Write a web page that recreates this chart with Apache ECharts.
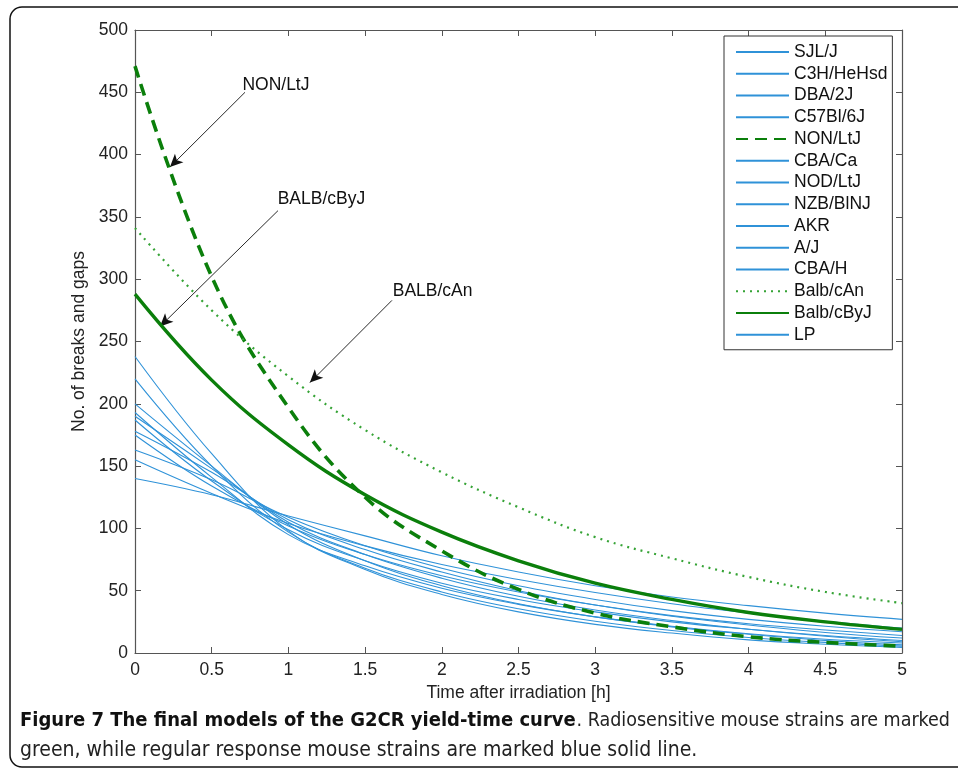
<!DOCTYPE html>
<html><head><meta charset="utf-8">
<script src="https://cdn.jsdelivr.net/npm/echarts@6/dist/echarts.min.js"></script>
<style>html,body{margin:0;padding:0;background:#fff}#c{width:958px;height:771px}</style>
</head><body><div id="c"></div>
<script>
// time points (h)
var times = [0, 0.5, 1, 1.5, 2, 2.5, 3, 3.5, 4, 4.5, 5];
var xTicks = [0, 0.5, 1, 1.5, 2, 2.5, 3, 3.5, 4, 4.5, 5];
var yTicks = [0, 50, 100, 150, 200, 250, 300, 350, 400, 450, 500];

// strains (legend order)
var strains = ['SJL/J','C3H/HeHsd','DBA/2J','C57Bl/6J','NON/LtJ','CBA/Ca','NOD/LtJ','NZB/BlNJ','AKR','A/J','CBA/H','Balb/cAn','Balb/cByJ','LP'];

// values
var sjl     = [238,160,98,67,47,33,23,16,10.5,7,4.5];
var c3h     = [220,150,97,68,49,35.5,25.5,18,12.5,8.5,5.5];
var dba     = [200,150,103,74,54,39.5,29,21,15,10,6.5];
var c57     = [193,141,95,70,52,39,29,21.5,15.5,11,8];
var non     = [471,302,197,125,82,51,32,21,13,8.5,5.5];
var cbaCa   = [190,148,105,79,60,45.5,34.5,26,19,13.5,9];
var nod     = [187,138,99,74,56,43,33,25,19,14,10];
var nzb     = [178,145,107,83,65,50,38.5,29.5,22.5,16.5,12];
var akr     = [175,134,102,79,62,49,38.5,30,23.5,18.5,14];
var aj      = [163,139,109,86,68,54,43,34,27,21.5,17];
var cbaH    = [155,128,104,86,71,59,48.5,39.5,32,25.5,20];
var balbAn  = [341,275,222,179,145,117,93,76,61,49,40];
var balbByJ = [288,219,167,127,97,74,56,43,32.5,25,19];
var lp      = [140,127,110,94,78,65,54,45,38,32,27];

// annotations: label, label anchor [t,v], arrow start [t,v], arrow tip [t,v]
var notes = [
  ['NON/LtJ',   [0.70,456], [0.717,450], [0.228,390]],
  ['BALB/cByJ', [0.93,364], [0.932,355], [0.163,262]],
  ['BALB/cAn',  [1.68,290], [1.675,283], [1.14,217]]
];

var valuesByName = {
  'SJL/J':sjl,'C3H/HeHsd':c3h,'DBA/2J':dba,'C57Bl/6J':c57,'NON/LtJ':non,'CBA/Ca':cbaCa,
  'NOD/LtJ':nod,'NZB/BlNJ':nzb,'AKR':akr,'A/J':aj,'CBA/H':cbaH,'Balb/cAn':balbAn,
  'Balb/cByJ':balbByJ,'LP':lp
};

var FONT = "'Liberation Sans', Arial, Helvetica, sans-serif";
var CAPFONT = "'DejaVu Sans Condensed', 'Liberation Sans Narrow', sans-serif";
var FS = 17.5;
var BLUE = '#2f92d8';
function pairs(v){ return times.map(function(t,i){ return [t, v[i]]; }); }

function styleFor(name){
  if (name === 'NON/LtJ') return {color:'#0b7f0b', width:3.6, type:[12,7], z:5};
  if (name === 'Balb/cByJ') return {color:'#0b7f0b', width:3.4, type:'solid', z:5};
  if (name === 'Balb/cAn') return {color:'#35a335', width:2.2, type:[2,5], z:5};
  return {color:BLUE, width:1.1, type:'solid', z:2};
}

var series = strains.map(function(name){
  var s = styleFor(name);
  return {
    name:name, type:'line', data:pairs(valuesByName[name]), smooth:0.4,
    symbol:'none', showSymbol:false, z:s.z, silent:true,
    itemStyle:{color:s.color},
    lineStyle:{color:s.color, width:s.width, type:s.type}
  };
});

// arrows via markLine (data coordinates)
series.push({
  name:'_notes', type:'line', data:[], silent:true, z:8,
  markLine:{
    silent:true, symbol:['none','arrow'], symbolSize:[9,13], animation:false,
    lineStyle:{color:'#111', width:0.9, type:'solid'}, label:{show:false},
    data: notes.map(function(n){ return [{coord:n[2]},{coord:n[3]}]; })
  }
});

function axisBase(){
  return {
    type:'value', axisLine:{show:true, onZero:false, lineStyle:{color:'#555', width:1.2}},
    axisTick:{show:true, inside:true, length:6, lineStyle:{color:'#555'}},
    splitLine:{show:false}
  };
}

var chart = echarts.init(document.getElementById('c'), null, {renderer:'canvas'});
chart.setOption({
  animation:false,
  backgroundColor:'#fff',
  grid:{left:135, right:56, top:30, bottom:118, containLabel:false},
  xAxis:[
    Object.assign(axisBase(), {position:'bottom', min:xTicks[0], max:xTicks[xTicks.length-1], interval:0.5,
      axisLabel:{fontSize:FS, color:'#222', fontFamily:FONT, margin:8},
      name:'Time after irradiation [h]', nameLocation:'middle', nameGap:28,
      nameTextStyle:{fontSize:FS, color:'#222', fontFamily:FONT}}),
    Object.assign(axisBase(), {position:'top', min:xTicks[0], max:xTicks[xTicks.length-1], interval:0.5,
      axisLabel:{show:false}})
  ],
  yAxis:[
    Object.assign(axisBase(), {position:'left', min:yTicks[0], max:yTicks[yTicks.length-1], interval:50,
      axisLabel:{fontSize:FS, color:'#222', fontFamily:FONT, margin:7},
      name:'No. of breaks and gaps', nameLocation:'middle', nameGap:37,
      nameTextStyle:{fontSize:FS, color:'#222', fontFamily:FONT}}),
    Object.assign(axisBase(), {position:'right', min:yTicks[0], max:yTicks[yTicks.length-1], interval:50,
      axisLabel:{show:false}})
  ],
  legend:{
    data:strains, orient:'vertical', left:724, top:36, align:'left',
    itemWidth:53, itemHeight:14, itemGap:3.75, padding:[7,5,6,11],
    borderColor:'#333', borderWidth:1, backgroundColor:'#fff',
    itemStyle:{opacity:0},
    textStyle:{fontSize:FS, color:'#111', fontFamily:FONT},
    selectedMode:false
  },
  series:series
});

// label texts of annotations and caption
var gfx = notes.map(function(n){
  var p = chart.convertToPixel({xAxisIndex:0, yAxisIndex:0}, n[1]);
  return {type:'text', x:p[0], y:p[1], z:20,
    style:{text:n[0], font:FS+'px '+FONT, fill:'#111', textAlign:'left', textVerticalAlign:'middle'}};
});
gfx.push({type:'rect', shape:{x:10, y:7, width:980, height:760, r:12}, z:-1,
  style:{fill:'none', stroke:'#111', lineWidth:1.5}});
gfx.push({type:'text', x:20, y:721, z:20, style:{
  text:'Figure 7 The final models of the G2CR yield-time curve', textVerticalAlign:'middle',
  font:'bold 20px '+CAPFONT, fill:'#111'}});
gfx.push({type:'text', x:950, y:721, z:20, style:{
  text:'. Radiosensitive mouse strains are marked', textVerticalAlign:'middle', textAlign:'right',
  font:'19.5px '+CAPFONT, fill:'#222'}});
gfx.push({type:'text', x:20, y:751, z:20, style:{
  text:'green, while regular response mouse strains are marked blue solid line.',
  textVerticalAlign:'middle', font:'21px '+CAPFONT, fill:'#222'
}});
chart.setOption({graphic:gfx});
</script>
</body></html>
